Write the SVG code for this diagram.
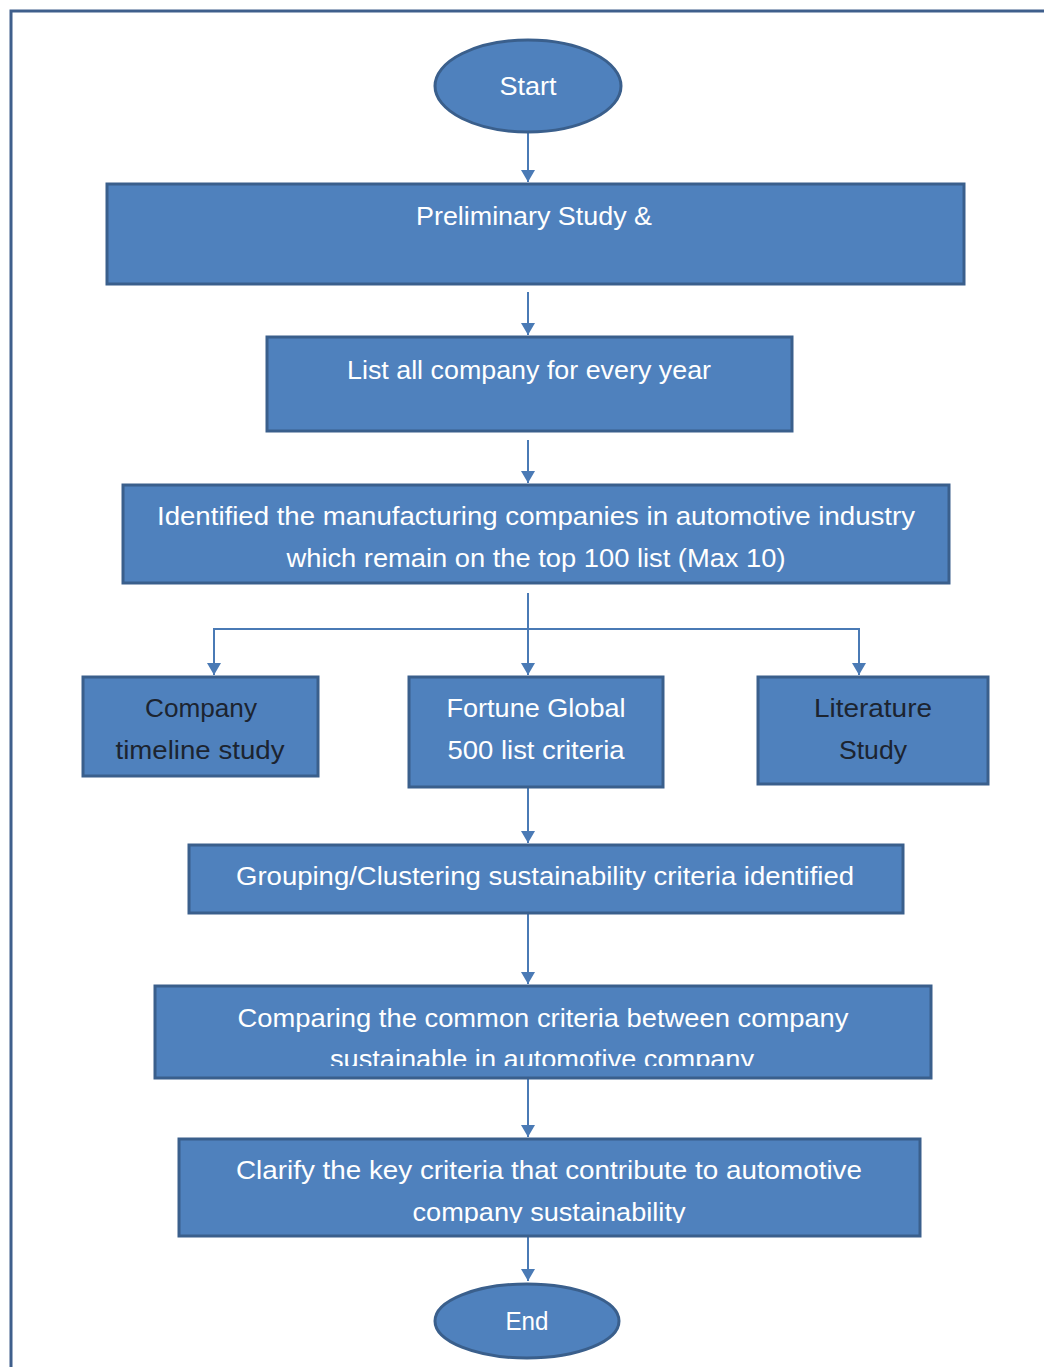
<svg xmlns="http://www.w3.org/2000/svg" width="1044" height="1367" viewBox="0 0 1044 1367">
<style>
.n{fill:#4f81bd;stroke:#3a5f8c;stroke-width:3}
.t{font-family:"Liberation Sans",Arial,sans-serif;font-size:25px;fill:#ffffff;text-anchor:middle}
.d{fill:#1c2430}
.c{stroke:#4a7ab5;stroke-width:2;fill:none}
</style>
<defs>
<marker id="ah" viewBox="0 0 12 14" refX="12" refY="7" markerWidth="12" markerHeight="14" markerUnits="userSpaceOnUse" orient="auto">
<path d="M0,0 L12,7 L0,14 z" fill="#4a7ab5"/>
</marker>
<clipPath id="clipCmp"><rect x="155" y="986" width="776" height="80"/></clipPath>
<clipPath id="clipClr"><rect x="179" y="1139" width="741" height="84"/></clipPath>
</defs>
<rect width="1044" height="1367" fill="#ffffff"/>
<path d="M11,1367 L11,11 L1044,11" fill="none" stroke="#3f5f8c" stroke-width="3"/>

<g id="connectors">
<line class="c" x1="528" y1="132" x2="528" y2="182" marker-end="url(#ah)"/>
<line class="c" x1="528" y1="292" x2="528" y2="335" marker-end="url(#ah)"/>
<line class="c" x1="528" y1="440" x2="528" y2="483" marker-end="url(#ah)"/>
<line class="c" x1="528" y1="593" x2="528" y2="675" marker-end="url(#ah)"/>
<polyline class="c" points="214,660 214,629 859,629 859,675" marker-end="url(#ah)"/>
<line class="c" x1="214" y1="640" x2="214" y2="675" marker-end="url(#ah)"/>
<line class="c" x1="528" y1="788" x2="528" y2="843" marker-end="url(#ah)"/>
<line class="c" x1="528" y1="914" x2="528" y2="984" marker-end="url(#ah)"/>
<line class="c" x1="528" y1="1079" x2="528" y2="1137" marker-end="url(#ah)"/>
<line class="c" x1="528" y1="1237" x2="528" y2="1281" marker-end="url(#ah)"/>
</g>

<g id="start">
<ellipse class="n" cx="528" cy="86" rx="93" ry="46"/>
<text class="t" x="528" y="95" textLength="57" lengthAdjust="spacingAndGlyphs">Start</text>
</g>
<g id="preliminary">
<rect class="n" x="107" y="184" width="857" height="100"/>
<text class="t" x="534" y="225" textLength="236" lengthAdjust="spacingAndGlyphs">Preliminary Study &amp;</text>
</g>
<g id="list">
<rect class="n" x="267" y="337" width="525" height="94"/>
<text class="t" x="529" y="379" textLength="364" lengthAdjust="spacingAndGlyphs">List all company for every year</text>
</g>
<g id="identified">
<rect class="n" x="123" y="485" width="826" height="98"/>
<text class="t" x="536" y="525" textLength="758" lengthAdjust="spacingAndGlyphs">Identified the manufacturing companies in automotive industry</text>
<text class="t" x="536" y="567" textLength="499" lengthAdjust="spacingAndGlyphs">which remain on the top 100 list (Max 10)</text>
</g>
<g id="company">
<rect class="n" x="83" y="677" width="235" height="99"/>
<text class="t d" x="201" y="717" textLength="112" lengthAdjust="spacingAndGlyphs">Company</text>
<text class="t d" x="200" y="759" textLength="169" lengthAdjust="spacingAndGlyphs">timeline study</text>
</g>
<g id="fortune">
<rect class="n" x="409" y="677" width="254" height="110"/>
<text class="t" x="536" y="717" textLength="179" lengthAdjust="spacingAndGlyphs">Fortune Global</text>
<text class="t" x="536" y="759" textLength="177" lengthAdjust="spacingAndGlyphs">500 list criteria</text>
</g>
<g id="literature">
<rect class="n" x="758" y="677" width="230" height="107"/>
<text class="t d" x="873" y="717" textLength="118" lengthAdjust="spacingAndGlyphs">Literature</text>
<text class="t d" x="873" y="759" textLength="68" lengthAdjust="spacingAndGlyphs">Study</text>
</g>
<g id="grouping">
<rect class="n" x="189" y="845" width="714" height="68"/>
<text class="t" x="545" y="885" textLength="618" lengthAdjust="spacingAndGlyphs">Grouping/Clustering sustainability criteria identified</text>
</g>
<g id="comparing">
<rect class="n" x="155" y="986" width="776" height="92"/>
<text class="t" x="543" y="1027" textLength="611" lengthAdjust="spacingAndGlyphs">Comparing the common criteria between company</text>
<text class="t" x="542" y="1068" textLength="424" lengthAdjust="spacingAndGlyphs" clip-path="url(#clipCmp)">sustainable in automotive company</text>
</g>
<g id="clarify">
<rect class="n" x="179" y="1139" width="741" height="97"/>
<text class="t" x="549" y="1179" textLength="626" lengthAdjust="spacingAndGlyphs">Clarify the key criteria that contribute to automotive</text>
<text class="t" x="549" y="1221" textLength="273" lengthAdjust="spacingAndGlyphs" clip-path="url(#clipClr)">company sustainability</text>
</g>
<g id="end">
<ellipse class="n" cx="527" cy="1321" rx="92" ry="37"/>
<text class="t" x="527" y="1330" textLength="43" lengthAdjust="spacingAndGlyphs">End</text>
</g>
</svg>
